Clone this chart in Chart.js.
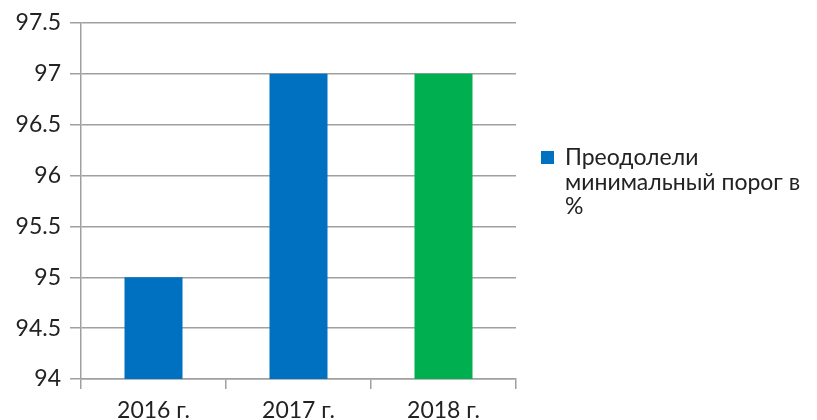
<!DOCTYPE html>
<html>
<head>
<meta charset="utf-8">
<script src="https://cdn.jsdelivr.net/npm/chart.js@4/dist/chart.umd.min.js"></script>
<style>
  html, body { margin: 0; padding: 0; background: #fff; }
  #wrap { width: 817px; height: 420px; }
</style>
</head>
<body>
<div id="wrap"><canvas id="chart" width="817" height="420"></canvas></div>
<script>
'use strict';

let years = ['2016 г.', '2017 г.', '2018 г.'];
let passed = [95, 97, 97];
let barColors = ['#0070C0', '#0070C0', '#00B050'];
let legendLines = ['Преодолели', 'минимальный порог в', '%'];
let yMin = 94;
let yMax = 97.5;
let yStep = 0.5;

const fontFamily = 'Lato, "Noto Sans", sans-serif';
const fontSize = 23;
const gridColor = '#a0a0a0';

// draws the wrapped legend on the right like the excel original
const sideLegend = {
  id: 'sideLegend',
  afterDraw(chart){
    let c = chart.ctx;
    let area = chart.chartArea;
    let x = area.right + 25;
    let y = 158;
    c.save();
    c.fillStyle = barColors[0];
    c.fillRect(x, y - 7, 13, 13);
    c.fillStyle = '#222';
    c.font = fontSize + 'px ' + fontFamily;
    c.textBaseline = 'middle';
    for(let i=0; i<legendLines.length; i++){
      c.fillText(legendLines[i], x + 24, y + i*24.5);
    }
    c.restore();
  }
};

new Chart(document.getElementById('chart'), {
  type: 'bar',
  data: {
    labels: years,
    datasets: [{
      label: legendLines.join(' '),
      data: passed,
      backgroundColor: barColors,
      barPercentage: 0.4,
      categoryPercentage: 1
    }]
  },
  options: {
    responsive: false,
    animation: false,
    layout: { padding: { top: 23, right: 301, left: 0, bottom: 0 } },
    plugins: {
      legend: { display: false },
      tooltip: { enabled: false }
    },
    scales: {
      x: {
        grid: { offset: true, drawOnChartArea: false, color: gridColor, lineWidth: 1.5, tickLength: 10 },
        border: { color: gridColor, width: 1.5 },
        ticks: { color: '#222', font: { family: fontFamily, size: fontSize }, padding: 8 },
        afterFit(scale){ scale.height = 41; }
      },
      y: {
        min: yMin,
        max: yMax,
        grid: { color: gridColor, lineWidth: 1.5, tickLength: 11 },
        border: { color: gridColor, width: 1.5 },
        ticks: {
          stepSize: yStep,
          color: '#222',
          font: { family: fontFamily, size: fontSize },
          padding: 9,
          callback: v => String(v)
        },
        afterFit(scale){ scale.width = 81; }
      }
    }
  },
  plugins: [sideLegend]
});
</script>
</body>
</html>
